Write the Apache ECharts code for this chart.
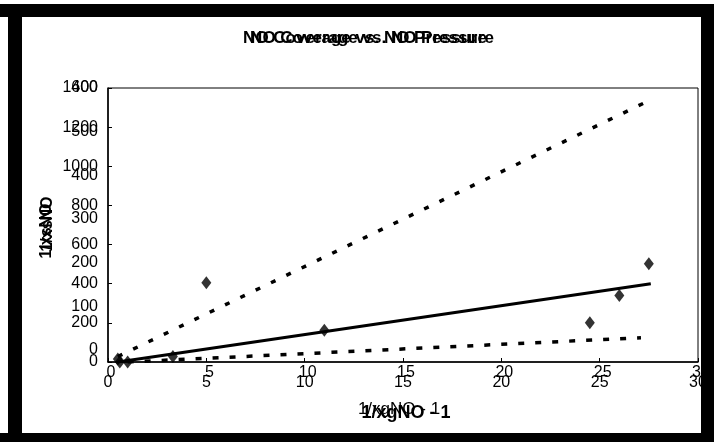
<!DOCTYPE html>
<html>
<head>
<meta charset="utf-8">
<script src="https://cdn.jsdelivr.net/npm/echarts@6/dist/echarts.min.js"></script>
<style>
  html, body { margin: 0; padding: 0; background: #fff; }
  #main { width: 714px; height: 442px; }
</style>
</head>
<body>
<div id="main"></div>
<script>
// measured points (1/xgNO-1 , 1/xsNO)
const pointX = [0.5, 0.6, 1.0, 3.3, 5, 11, 24.5, 26, 27.5];
const pointY = [15, 0, 0, 28, 405, 162, 200, 340, 502];

// fitted lines (end points)
const fitX = [0.5, 27.6];
const fitY = [0, 400];
const upperX = [0.5, 27.4];
const upperY = [28, 1330];
const lowerX = [1.0, 27.1];
const lowerY = [0, 124];

// tick labels
const xTicks = [0, 5, 10, 15, 20, 25, 30];
const yTicksMain = [0, 200, 400, 600, 800, 1000, 1200, 1400];
const yTicksOver = [0, 100, 200, 300, 400, 500, 600];

const titleText = 'NO Coverage vs. NO Pressure';
const xName = '1/xgNO - 1';
const yName = '1/xsNO';

const pairs = (xs, ys) => xs.map((x, i) => [x, ys[i]]);
const plain = v => String(v);

const chart = echarts.init(document.getElementById('main'), null, { renderer: 'canvas' });
const font = '"Liberation Sans", Arial, sans-serif';

const option = {
  backgroundColor: '#fff',
  animation: false,
  textStyle: { fontFamily: font, color: '#000' },
  grid: [
    { left: 108, right: 16, top: 88, bottom: 80, show: true, borderColor: '#000', borderWidth: 1 },
    { left: 111, right: 13, top: 88, bottom: 92 }
  ],
  xAxis: [
    {
      gridIndex: 0, type: 'value', min: xTicks[0], max: xTicks[xTicks.length - 1], interval: 5,
      axisLine: { lineStyle: { color: '#000', width: 1.5 } },
      axisTick: { inside: true, length: 4, lineStyle: { color: '#000' } },
      splitLine: { show: false },
      axisLabel: { color: '#000', fontSize: 16, margin: 13, fontFamily: font, formatter: plain }
    },
    {
      gridIndex: 1, type: 'value', min: xTicks[0], max: xTicks[xTicks.length - 1], interval: 5,
      axisLine: { show: false }, axisTick: { show: false }, splitLine: { show: false },
      axisLabel: { color: '#000', fontSize: 16, margin: 15, fontFamily: font, formatter: plain }
    }
  ],
  yAxis: [
    {
      gridIndex: 0, type: 'value', min: 0, max: yTicksMain[yTicksMain.length - 1], interval: 200,
      axisLine: { show: true, lineStyle: { color: '#000', width: 1.5 } },
      axisTick: { show: true, inside: true, length: 4, lineStyle: { color: '#000' } },
      splitLine: { show: false },
      axisLabel: { color: '#000', fontSize: 16, margin: 10, fontFamily: font, formatter: plain }
    },
    {
      gridIndex: 1, type: 'value', min: 0, max: yTicksOver[yTicksOver.length - 1], interval: 100,
      axisLine: { show: false }, axisTick: { show: false }, splitLine: { show: false },
      axisLabel: { color: '#000', fontSize: 16, margin: 13, fontFamily: font, formatter: plain }
    }
  ],
  series: [
    {
      name: 'upper', type: 'line', xAxisIndex: 0, yAxisIndex: 0,
      data: pairs(upperX, upperY), symbol: 'none',
      lineStyle: { color: '#000', width: 3.5, type: [5, 12] }
    },
    {
      name: 'lower', type: 'line', xAxisIndex: 0, yAxisIndex: 0,
      data: pairs(lowerX, lowerY), symbol: 'none',
      lineStyle: { color: '#000', width: 3.5, type: [6, 11] }
    },
    {
      name: 'fit', type: 'line', xAxisIndex: 0, yAxisIndex: 0,
      data: pairs(fitX, fitY), symbol: 'none',
      lineStyle: { color: '#000', width: 3 }
    },
    {
      name: 'data', type: 'scatter', xAxisIndex: 0, yAxisIndex: 0,
      data: pairs(pointX, pointY), symbol: 'diamond', symbolSize: [10, 13],
      itemStyle: { color: '#000' }
    }
  ],
  graphic: [
    // outer black frame
    { type: 'rect', shape: { x: 0, y: 4, width: 714, height: 13 }, style: { fill: '#000' } },
    { type: 'rect', shape: { x: 8, y: 4, width: 14, height: 438 }, style: { fill: '#000' } },
    { type: 'rect', shape: { x: 0, y: 433, width: 714, height: 9 }, style: { fill: '#000' } },
    { type: 'rect', shape: { x: 701, y: 4, width: 13, height: 438 }, style: { fill: '#000' } },
    // doubled title
    { type: 'text', x: 365, y: 38, style: { text: titleText, font: 'bold 17px ' + font, fill: '#000', textAlign: 'center', textVerticalAlign: 'middle' } },
    { type: 'text', x: 372, y: 38, style: { text: titleText, font: 'bold 17px ' + font, fill: '#000', textAlign: 'center', textVerticalAlign: 'middle' } },
    // doubled x name
    { type: 'text', x: 406, y: 413, style: { text: xName, font: 'bold 18px ' + font, fill: '#000', textAlign: 'center', textVerticalAlign: 'middle' } },
    { type: 'text', x: 399, y: 409, style: { text: xName, font: '17px ' + font, fill: '#000', textAlign: 'center', textVerticalAlign: 'middle' } },
    // doubled y name
    { type: 'text', x: 47, y: 231, rotation: Math.PI / 2, style: { text: yName, font: 'bold 16px ' + font, fill: '#000', textAlign: 'center', textVerticalAlign: 'middle' } },
    { type: 'text', x: 48, y: 224, rotation: Math.PI / 2, style: { text: yName, font: 'bold 16px ' + font, fill: '#000', textAlign: 'center', textVerticalAlign: 'middle' } }
  ]
};

chart.setOption(option);
</script>
</body>
</html>
